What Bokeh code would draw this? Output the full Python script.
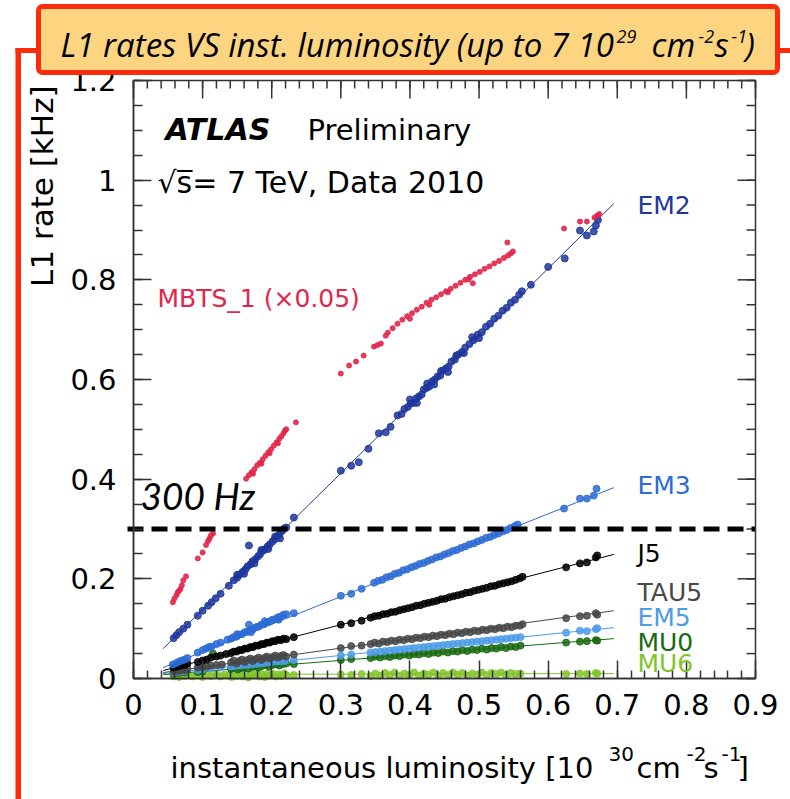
from math import pi
from bokeh.plotting import figure
from bokeh.models import Range1d, LinearAxis, FixedTicker, Label, BoxAnnotation, CustomJSTickFormatter
from bokeh.embed import file_html
from bokeh.resources import INLINE

# ---------------- data ----------------
LUMI_TICKS = [0, 0.1, 0.2, 0.3, 0.4, 0.5, 0.6, 0.7, 0.8, 0.9]
RATE_TICKS = [0, 0.2, 0.4, 0.6, 0.8, 1.0, 1.2]
LUMI_RANGE = (0.0, 0.9)
RATE_RANGE = (0.0, 1.2)
LIMIT_300HZ = 0.3

FIT_X = [0.043, 0.695]

MBTS_X = [0.057, 0.059, 0.062, 0.064, 0.066, 0.068, 0.070, 0.072, 0.076, 0.093, 0.100, 0.105, 0.108, 0.110, 0.112, 0.115,
          0.163, 0.167, 0.171, 0.175, 0.179, 0.183, 0.187, 0.191, 0.195, 0.199, 0.203, 0.207, 0.211, 0.214, 0.217, 0.219, 0.221,
          0.173, 0.185, 0.197, 0.209, 0.235,
          0.300, 0.312, 0.322, 0.333, 0.348, 0.353, 0.358, 0.365,
          0.368, 0.375, 0.382, 0.389, 0.396, 0.403, 0.410, 0.417, 0.424, 0.431, 0.438, 0.445, 0.452, 0.459, 0.466, 0.473,
          0.480, 0.487, 0.494, 0.501, 0.508, 0.515, 0.522, 0.529, 0.536, 0.542, 0.546, 0.549,
          0.400, 0.428, 0.455, 0.485, 0.491, 0.541,
          0.623, 0.646, 0.656, 0.667, 0.671, 0.674]
MBTS_Y = [0.153, 0.160, 0.167, 0.173, 0.176, 0.180, 0.187, 0.197, 0.205, 0.241, 0.253, 0.268, 0.276, 0.281, 0.287, 0.291,
          0.401, 0.408, 0.414, 0.420, 0.428, 0.433, 0.440, 0.447, 0.454, 0.460, 0.467, 0.474, 0.481, 0.486, 0.492, 0.497, 0.500,
          0.411, 0.431, 0.452, 0.472, 0.514,
          0.612, 0.628, 0.636, 0.648, 0.666, 0.669, 0.672, 0.688,
          0.694, 0.703, 0.712, 0.720, 0.727, 0.733, 0.740, 0.746, 0.754, 0.760, 0.765, 0.771, 0.777, 0.782, 0.788, 0.794,
          0.800, 0.806, 0.811, 0.816, 0.822, 0.827, 0.833, 0.838, 0.844, 0.849, 0.853, 0.857,
          0.722, 0.750, 0.775, 0.801, 0.793, 0.875,
          0.903, 0.917, 0.917, 0.925, 0.929, 0.932]

EM2_X = [0.058, 0.062, 0.066, 0.072, 0.078, 0.093, 0.100, 0.108, 0.113, 0.119, 0.126, 0.138,
         0.145, 0.150, 0.154, 0.158, 0.162, 0.165, 0.169, 0.172, 0.176, 0.180, 0.183, 0.187, 0.190, 0.194, 0.197, 0.201,
         0.204, 0.208, 0.211, 0.215, 0.218, 0.221, 0.150, 0.160, 0.175, 0.185, 0.195, 0.205, 0.212,
         0.167, 0.232,
         0.300, 0.315, 0.326, 0.340, 0.355, 0.365, 0.372,
         0.382, 0.388, 0.392, 0.397, 0.401, 0.405, 0.409, 0.413, 0.417, 0.420, 0.424, 0.428, 0.432, 0.436, 0.440, 0.444,
         0.448, 0.452, 0.456, 0.460, 0.465, 0.470, 0.475, 0.480, 0.486, 0.492, 0.498, 0.504, 0.510, 0.516, 0.522, 0.528,
         0.534, 0.540, 0.546, 0.552, 0.558, 0.562,
         0.400, 0.410, 0.425, 0.435, 0.445, 0.455, 0.467, 0.478, 0.490, 0.500,
         0.575, 0.600, 0.624, 0.646, 0.656, 0.666, 0.669, 0.672]
EM2_Y = [0.081, 0.087, 0.093, 0.100, 0.108, 0.126, 0.136, 0.146, 0.153, 0.161, 0.170, 0.186,
         0.197, 0.202, 0.209, 0.214, 0.219, 0.225, 0.229, 0.235, 0.239, 0.245, 0.249, 0.256, 0.259, 0.265, 0.269, 0.275,
         0.279, 0.285, 0.289, 0.296, 0.301, 0.303, 0.208, 0.210, 0.231, 0.258, 0.260, 0.285, 0.281,
         0.267, 0.323,
         0.417, 0.427, 0.434, 0.461, 0.492, 0.494, 0.505,
         0.528, 0.531, 0.541, 0.545, 0.552, 0.553, 0.562, 0.566, 0.570, 0.580, 0.583, 0.586, 0.596, 0.600, 0.606, 0.608,
         0.618, 0.622, 0.626, 0.636, 0.640, 0.650, 0.655, 0.664, 0.671, 0.679, 0.690, 0.695, 0.706, 0.712, 0.722, 0.728,
         0.738, 0.744, 0.754, 0.760, 0.770, 0.777,
         0.560, 0.553, 0.592, 0.590, 0.617, 0.615, 0.648, 0.653, 0.685, 0.683,
         0.790, 0.826, 0.843, 0.899, 0.889, 0.897, 0.909, 0.920]
EM2_FIT = [0.060, 0.953]

EM3_X = [0.057, 0.062, 0.066, 0.070, 0.074, 0.078, 0.093, 0.100, 0.105, 0.109, 0.113, 0.120, 0.126, 0.136,
         0.141, 0.145, 0.149, 0.153, 0.157, 0.161, 0.165, 0.169, 0.173, 0.177, 0.181, 0.185, 0.189, 0.193, 0.197, 0.201,
         0.205, 0.209, 0.213, 0.217, 0.221, 0.150, 0.170, 0.190, 0.210,
         0.167, 0.232, 0.300, 0.315, 0.330,
         0.348, 0.354, 0.360, 0.366, 0.372, 0.378, 0.384, 0.390, 0.396, 0.402, 0.408, 0.414, 0.420, 0.426, 0.432, 0.438,
         0.444, 0.450, 0.456, 0.462, 0.468, 0.474, 0.480, 0.486, 0.492, 0.498, 0.504, 0.510, 0.516, 0.522, 0.528, 0.534,
         0.540, 0.546, 0.552, 0.556,
         0.623, 0.646, 0.656, 0.666, 0.670]
EM3_Y = [0.028, 0.031, 0.034, 0.036, 0.038, 0.041, 0.052, 0.057, 0.060, 0.063, 0.064, 0.069, 0.072, 0.078,
         0.080, 0.083, 0.084, 0.088, 0.089, 0.093, 0.094, 0.098, 0.099, 0.103, 0.104, 0.108, 0.109, 0.113, 0.114, 0.118,
         0.119, 0.123, 0.124, 0.128, 0.129, 0.089, 0.093, 0.115, 0.118,
         0.108, 0.131, 0.166, 0.170, 0.180,
         0.192, 0.196, 0.198, 0.203, 0.205, 0.210, 0.212, 0.217, 0.219, 0.223, 0.226, 0.230, 0.232, 0.236, 0.239, 0.243,
         0.245, 0.249, 0.252, 0.256, 0.258, 0.262, 0.265, 0.269, 0.271, 0.275, 0.278, 0.282, 0.284, 0.288, 0.291, 0.295,
         0.298, 0.302, 0.306, 0.309,
         0.341, 0.361, 0.361, 0.367, 0.381]
EM3_FIT = [0.022, 0.383]

J5_X = [0.058, 0.062, 0.066, 0.070, 0.074, 0.078, 0.093, 0.100, 0.106, 0.112, 0.120, 0.126, 0.134,
        0.141, 0.145, 0.149, 0.153, 0.157, 0.161, 0.165, 0.169, 0.173, 0.177, 0.181, 0.185, 0.189, 0.193, 0.197, 0.201,
        0.205, 0.209, 0.213, 0.217, 0.221,
        0.232, 0.300, 0.315, 0.330,
        0.343, 0.349, 0.355, 0.361, 0.367, 0.373, 0.379, 0.385, 0.391, 0.397, 0.403, 0.409, 0.415, 0.421, 0.427, 0.433,
        0.439, 0.445, 0.451, 0.457, 0.463, 0.469, 0.475, 0.481, 0.487, 0.493, 0.499, 0.505, 0.511, 0.517, 0.523, 0.529,
        0.535, 0.541, 0.547, 0.553, 0.559, 0.563,
        0.626, 0.646, 0.656, 0.669, 0.671]
J5_Y = [0.022, 0.024, 0.025, 0.028, 0.027, 0.030, 0.033, 0.036, 0.038, 0.042, 0.044, 0.046, 0.049,
        0.051, 0.054, 0.054, 0.057, 0.057, 0.060, 0.060, 0.063, 0.063, 0.066, 0.066, 0.069, 0.069, 0.072, 0.072, 0.075,
        0.075, 0.078, 0.077, 0.080, 0.079,
        0.083, 0.108, 0.111, 0.116,
        0.122, 0.125, 0.126, 0.129, 0.130, 0.133, 0.134, 0.137, 0.139, 0.141, 0.143, 0.146, 0.147, 0.150, 0.152, 0.154,
        0.156, 0.159, 0.160, 0.163, 0.165, 0.167, 0.169, 0.172, 0.173, 0.176, 0.178, 0.180, 0.182, 0.185, 0.186, 0.189,
        0.191, 0.193, 0.195, 0.198, 0.201, 0.204,
        0.223, 0.231, 0.233, 0.243, 0.247]
J5_FIT = [0.016, 0.249]

TAU5_X = [0.058, 0.062, 0.066, 0.070, 0.074, 0.078, 0.093, 0.100, 0.106, 0.112, 0.120, 0.128,
          0.141, 0.145, 0.149, 0.153, 0.157, 0.161, 0.165, 0.169, 0.173, 0.177, 0.181, 0.185, 0.189, 0.193, 0.197,
          0.201, 0.205, 0.209, 0.213, 0.217, 0.221,
          0.232, 0.300, 0.315, 0.330,
          0.343, 0.349, 0.355, 0.361, 0.367, 0.373, 0.379, 0.385, 0.391, 0.397, 0.403, 0.409, 0.415, 0.421, 0.427, 0.433,
          0.439, 0.445, 0.451, 0.457, 0.463, 0.469, 0.475, 0.481, 0.487, 0.493, 0.499, 0.505, 0.511, 0.517, 0.523, 0.529,
          0.535, 0.541, 0.547, 0.553, 0.559, 0.563,
          0.626, 0.646, 0.656, 0.669, 0.671]
TAU5_Y = [0.014, 0.016, 0.015, 0.018, 0.017, 0.019, 0.022, 0.023, 0.024, 0.026, 0.027, 0.028,
          0.032, 0.036, 0.030, 0.035, 0.038, 0.033, 0.037, 0.040, 0.035, 0.039, 0.042, 0.037, 0.041, 0.044, 0.040,
          0.043, 0.046, 0.042, 0.045, 0.047, 0.044,
          0.048, 0.061, 0.065, 0.066,
          0.069, 0.072, 0.070, 0.074, 0.073, 0.076, 0.075, 0.078, 0.077, 0.080, 0.079, 0.082, 0.081, 0.084, 0.083, 0.086,
          0.085, 0.088, 0.087, 0.090, 0.089, 0.092, 0.091, 0.094, 0.093, 0.096, 0.095, 0.098, 0.097, 0.100, 0.099, 0.102,
          0.101, 0.104, 0.103, 0.106, 0.106, 0.109,
          0.121, 0.125, 0.126, 0.131, 0.128]
TAU5_FIT = [0.012, 0.136]

EM5_X = [0.058, 0.066, 0.074, 0.093, 0.100, 0.112, 0.126,
         0.141, 0.147, 0.153, 0.159, 0.165, 0.171, 0.177, 0.183, 0.189, 0.195, 0.201, 0.207, 0.213, 0.219,
         0.232, 0.300, 0.315,
         0.343, 0.350, 0.357, 0.364, 0.371, 0.378, 0.385, 0.392, 0.399, 0.406, 0.413, 0.420, 0.427, 0.434, 0.441, 0.448,
         0.455, 0.462, 0.469, 0.476, 0.483, 0.490, 0.497, 0.504, 0.511, 0.518, 0.525, 0.532, 0.539, 0.546, 0.553, 0.560,
         0.626, 0.646, 0.656, 0.669, 0.671]
EM5_Y = [0.012, 0.013, 0.015, 0.017, 0.018, 0.020, 0.022,
         0.024, 0.025, 0.026, 0.027, 0.027, 0.028, 0.029, 0.030, 0.031, 0.032, 0.033, 0.034, 0.034, 0.035,
         0.037, 0.046, 0.048,
         0.052, 0.053, 0.054, 0.055, 0.056, 0.057, 0.058, 0.059, 0.060, 0.061, 0.062, 0.063, 0.064, 0.065, 0.066, 0.067,
         0.068, 0.069, 0.070, 0.071, 0.072, 0.073, 0.074, 0.075, 0.076, 0.077, 0.078, 0.079, 0.080, 0.081, 0.082, 0.083,
         0.092, 0.096, 0.095, 0.099, 0.101]
EM5_FIT = [0.010, 0.102]

MU0_X = [0.058, 0.066, 0.074, 0.093, 0.100, 0.115,
         0.141, 0.146, 0.151, 0.156, 0.161, 0.166, 0.171, 0.176, 0.181, 0.186, 0.191, 0.196, 0.201, 0.206, 0.211, 0.216, 0.221,
         0.232, 0.300, 0.315,
         0.343, 0.350, 0.357, 0.364, 0.371, 0.378, 0.385, 0.392, 0.399, 0.406, 0.413, 0.420, 0.427, 0.434, 0.441, 0.448,
         0.455, 0.462, 0.469, 0.476, 0.483, 0.490, 0.497, 0.504, 0.511, 0.518, 0.525, 0.532, 0.539, 0.546, 0.553, 0.560,
         0.626, 0.646, 0.656, 0.669, 0.671]
MU0_Y = [0.009, 0.011, 0.012, 0.013, 0.014, 0.050,
         0.019, 0.022, 0.018, 0.021, 0.023, 0.020, 0.023, 0.025, 0.022, 0.025, 0.027, 0.024, 0.027, 0.029, 0.026, 0.029, 0.030,
         0.029, 0.037, 0.039,
         0.041, 0.044, 0.042, 0.045, 0.043, 0.046, 0.045, 0.048, 0.046, 0.049, 0.048, 0.051, 0.049, 0.052, 0.051, 0.054,
         0.052, 0.055, 0.054, 0.057, 0.055, 0.058, 0.057, 0.060, 0.058, 0.061, 0.060, 0.063, 0.061, 0.064, 0.063, 0.066,
         0.072, 0.074, 0.075, 0.077, 0.076]
MU0_FIT = [0.008, 0.080]

MU6_X = [0.058, 0.062, 0.066, 0.070, 0.074, 0.078, 0.085, 0.093, 0.100, 0.106, 0.112, 0.120, 0.126, 0.132, 0.138,
         0.142, 0.146, 0.150, 0.154, 0.158, 0.162, 0.166, 0.170, 0.174, 0.178, 0.182, 0.186, 0.190, 0.194, 0.198, 0.202,
         0.206, 0.210, 0.214, 0.218, 0.222,
         0.232, 0.300, 0.315, 0.330,
         0.343, 0.350, 0.357, 0.364, 0.371, 0.378, 0.385, 0.392, 0.399, 0.406, 0.413, 0.420, 0.427, 0.434, 0.441, 0.448,
         0.455, 0.462, 0.469, 0.476, 0.483, 0.490, 0.497, 0.504, 0.511, 0.518, 0.525, 0.532, 0.539, 0.546, 0.553, 0.560,
         0.626, 0.646, 0.656, 0.669, 0.671]
MU6_Y = [0.004, 0.008, 0.003, 0.007, 0.005, 0.009, 0.004, 0.007, 0.003, 0.008, 0.005, 0.009, 0.004, 0.008, 0.006,
         0.003, 0.009, 0.005, 0.010, 0.004, 0.008, 0.002, 0.009, 0.006, 0.011, 0.004, 0.008, 0.003, 0.010, 0.006, 0.009,
         0.004, 0.008, 0.005, 0.010, 0.006,
         0.007, 0.008, 0.007, 0.009,
         0.005, 0.010, 0.006, 0.011, 0.007, 0.012, 0.006, 0.010, 0.007, 0.012, 0.006, 0.010, 0.008, 0.012, 0.006, 0.011,
         0.007, 0.012, 0.008, 0.011, 0.006, 0.010, 0.008, 0.012, 0.007, 0.011, 0.009, 0.012, 0.007, 0.011, 0.009, 0.010,
         0.009, 0.010, 0.009, 0.011, 0.010]
MU6_FIT = [0.008, 0.010]

# ---------------- styles ----------------
C_MBTS = "#e3264b"
C_EM2 = "#1f369c"
C_EM3 = "#2d6bd5"
C_J5 = "#000000"
C_TAU5 = "#484848"
C_EM5 = "#4c9ce6"
C_MU0 = "#176b10"
C_MU6 = "#82c52a"
RED = "#fa2c0c"
BOX_FILL = "#fdd580"
AXIS_C = "#333333"
FONT = "DejaVu Sans"

W, H = 790, 799
FRAME_L, FRAME_R, FRAME_T, FRAME_B = 133, 755, 80, 678
PX_PER_X = (FRAME_R - FRAME_L) / (LUMI_RANGE[1] - LUMI_RANGE[0])
PX_PER_Y = (FRAME_B - FRAME_T) / (RATE_RANGE[1] - RATE_RANGE[0])


def dx(px):
    return LUMI_RANGE[0] + (px - FRAME_L) / PX_PER_X


def dy(py):
    return RATE_RANGE[0] + (FRAME_B - py) / PX_PER_Y


# the drawing area covers the whole page; axes sit at fixed data locations
p = figure(width=W, height=H, output_backend="svg", toolbar_location=None,
           x_range=Range1d(dx(0), dx(W)), y_range=Range1d(dy(H), dy(0)),
           x_axis_location=None, y_axis_location=None,
           min_border=0, min_border_left=0, min_border_right=0, min_border_top=0, min_border_bottom=0)
p.xgrid.visible = False
p.ygrid.visible = False
p.background_fill_color = "white"
p.border_fill_color = "white"
p.outline_line_color = None

fmt = CustomJSTickFormatter(code="return String(Math.round(tick*100)/100);")
x_minor = [round(i * 0.02, 3) for i in range(46)]
y_minor = [round(i * 0.05, 3) for i in range(25)]


def style_axis(ax):
    ax.axis_line_color = AXIS_C
    ax.axis_line_width = 1.5
    ax.major_tick_line_color = AXIS_C
    ax.minor_tick_line_color = AXIS_C
    ax.major_tick_line_width = 1.5
    ax.minor_tick_line_width = 1.5
    ax.major_tick_in = 18
    ax.major_tick_out = 0
    ax.minor_tick_out = 0
    ax.major_label_text_font = FONT
    ax.major_label_text_font_size = "29px"
    ax.major_label_text_color = "black"


xax = LinearAxis(ticker=FixedTicker(ticks=LUMI_TICKS, minor_ticks=x_minor), formatter=fmt,
                 fixed_location=RATE_RANGE[0], bounds=LUMI_RANGE)
style_axis(xax)
xax.minor_tick_in = 8
xax.major_label_standoff = 15
p.add_layout(xax, "below")

yax = LinearAxis(ticker=FixedTicker(ticks=RATE_TICKS, minor_ticks=y_minor), formatter=fmt,
                 fixed_location=LUMI_RANGE[0], bounds=RATE_RANGE)
style_axis(yax)
yax.minor_tick_in = 9
yax.major_label_standoff = 17
p.add_layout(yax, "left")

# top and right frame edges with inward ticks (no labels)
p.add_layout(BoxAnnotation(left=LUMI_RANGE[0], right=LUMI_RANGE[1], bottom=RATE_RANGE[0], top=RATE_RANGE[1],
                           fill_color=None, line_color=AXIS_C, line_alpha=1, line_width=1.5, level="guide"))
x_minor_in = [t for t in x_minor if t <= LUMI_RANGE[1]]
y_minor_in = [t for t in y_minor if t <= RATE_RANGE[1]]
p.segment(x0=LUMI_TICKS, x1=LUMI_TICKS, y0=[RATE_RANGE[1]] * len(LUMI_TICKS),
          y1=[RATE_RANGE[1] - 18 / PX_PER_Y] * len(LUMI_TICKS), line_color=AXIS_C, line_width=1.5)
p.segment(x0=x_minor_in, x1=x_minor_in, y0=[RATE_RANGE[1]] * len(x_minor_in),
          y1=[RATE_RANGE[1] - 8 / PX_PER_Y] * len(x_minor_in), line_color=AXIS_C, line_width=1.5)
p.segment(x0=[LUMI_RANGE[1]] * len(RATE_TICKS), x1=[LUMI_RANGE[1] - 18 / PX_PER_X] * len(RATE_TICKS),
          y0=RATE_TICKS, y1=RATE_TICKS, line_color=AXIS_C, line_width=1.5)
p.segment(x0=[LUMI_RANGE[1]] * len(y_minor_in), x1=[LUMI_RANGE[1] - 9 / PX_PER_X] * len(y_minor_in),
          y0=y_minor_in, y1=y_minor_in, line_color=AXIS_C, line_width=1.5)

# fit lines and points
series = [
    (MU6_X, MU6_Y, MU6_FIT, C_MU6),
    (MU0_X, MU0_Y, MU0_FIT, C_MU0),
    (EM5_X, EM5_Y, EM5_FIT, C_EM5),
    (TAU5_X, TAU5_Y, TAU5_FIT, C_TAU5),
    (J5_X, J5_Y, J5_FIT, C_J5),
    (EM3_X, EM3_Y, EM3_FIT, C_EM3),
    (EM2_X, EM2_Y, EM2_FIT, C_EM2),
]
for xs, ys, fit, col in series:
    p.line(FIT_X, fit, line_color=col, line_width=1)
    p.scatter(xs, ys, size=7, marker="circle", fill_color=col, line_color=col, alpha=0.85)
p.scatter(MBTS_X, MBTS_Y, size=5, marker="circle", fill_color=C_MBTS, line_color=C_MBTS, alpha=0.9)

# 300 Hz limit
p.line([dx(127), LUMI_RANGE[1]], [LIMIT_300HZ, LIMIT_300HZ], line_color="black", line_width=5, line_dash="16 8")

# decoration: red frame lines and title box
p.add_layout(BoxAnnotation(left=dx(15), right=dx(800), top=dy(47.5), bottom=dy(52.5),
                           fill_color=RED, fill_alpha=1, line_color=None, level="overlay"))
p.add_layout(BoxAnnotation(left=dx(15), right=dx(20.5), top=dy(47.5), bottom=dy(820),
                           fill_color=RED, fill_alpha=1, line_color=None, level="overlay"))
p.add_layout(BoxAnnotation(left=dx(38), right=dx(777), top=dy(6), bottom=dy(72),
                           fill_color=BOX_FILL, fill_alpha=1, line_color=RED, line_alpha=1, line_width=5,
                           border_radius=4, level="overlay"))


def lab(text, px, py, size, color="black", font=FONT, style="normal", align="left", angle=0):
    # py is the vertical middle of the capital letters
    p.add_layout(Label(x=dx(px), y=dy(py), text=text, text_font=font, text_font_size=size,
                       text_font_style=style, text_color=color, text_align=align,
                       text_baseline="middle", angle=angle, level="overlay"))


# title (Calibri-like italic)
TF = "Open Sans"
lab("L1 rates VS inst. luminosity (up to 7 10", 60, 44, "33px", font=TF, style="italic")
lab("29", 616, 36, "18px", font=TF, style="italic")
lab("cm", 651, 44, "33px", font=TF, style="italic")
lab("-2", 698, 36, "18px", font=TF, style="italic")
lab("s", 714, 44, "33px", font=TF, style="italic")
lab("-1", 731, 36, "18px", font=TF, style="italic")
lab(")", 745, 44, "33px", font=TF, style="italic")

# axis titles
lab("L1 rate [kHz]", 41, 85, "31px", align="right", angle=pi / 2)
lab("instantaneous luminosity [10", 170, 767, "29px")
lab("30", 608, 753, "20px")
lab("cm", 636, 767, "29px")
lab("-2", 686, 753, "20px")
lab("s", 703, 767, "29px")
lab("-1", 721, 753, "20px")
lab("]", 737, 767, "29px")

# in-plot texts
lab("ATLAS", 165, 129, "30px", style="bold italic")
lab("Preliminary", 307, 129, "29px")
lab("\u221as\u0305= 7 TeV, Data 2010", 157, 182, "30px")
lab("MBTS_1 (\u00d70.05)", 157, 298, "25px", color=C_MBTS)
lab("300 Hz", 140, 495, "37px", font="Lato", style="italic")

lab("EM2", 637, 205, "25px", color=C_EM2)
lab("EM3", 637, 485, "25px", color=C_EM3)
lab("J5", 637, 553, "25px", color=C_J5)
lab("TAU5", 637, 592, "25px", color=C_TAU5)
lab("EM5", 637, 617, "25px", color=C_EM5)
lab("MU0", 637, 642, "25px", color=C_MU0)
lab("MU6", 637, 663, "25px", color=C_MU6)

open("out.html", "w").write(file_html(p, INLINE))
